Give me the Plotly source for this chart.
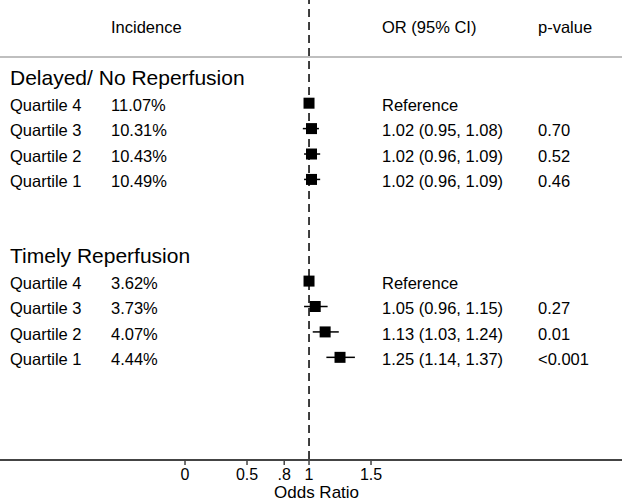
import plotly.graph_objects as go

# data
groups = ["Delayed/ No Reperfusion", "Timely Reperfusion"]
quartiles = ["Quartile 4", "Quartile 3", "Quartile 2", "Quartile 1"]
incidence = [[11.07, 10.31, 10.43, 10.49], [3.62, 3.73, 4.07, 4.44]]
odds = [[1.00, 1.02, 1.02, 1.02], [1.00, 1.05, 1.13, 1.25]]
ci_low = [[None, 0.95, 0.96, 0.96], [None, 0.96, 1.03, 1.14]]
ci_high = [[None, 1.08, 1.09, 1.09], [None, 1.15, 1.24, 1.37]]
pvals = [[None, "0.70", "0.52", "0.46"], [None, "0.27", "0.01", "<0.001"]]

tick_vals = [0, 0.5, 0.8, 1, 1.5]
tick_text = ["0", "0.5", ".8", "1", "1.5"]

FONT = "Liberation Sans, Arial, Helvetica, sans-serif"
group_rows = [2, 9]   # row index of each group title

W, H = 622, 501
PLOT_H = 459
col_x = [0.013, 0.175, 0.611, 0.862]   # label, incidence, OR, p-value

fig = go.Figure()
annots = []

def add_text(txt, x, y, size=16.5):
    annots.append(dict(text=txt, x=x, y=y, xref="paper", yref="y",
                       xanchor="left", yanchor="middle", showarrow=False,
                       font=dict(size=size, color="black", family=FONT)))

# header
add_text("Incidence", col_x[1], 0)
add_text("OR (95% CI)", col_x[2], 0)
add_text("p-value", col_x[3], 0)

for g, name in enumerate(groups):
    r0 = group_rows[g]
    add_text(name, col_x[0], r0, size=21)
    ys, xs, ep, em = [], [], [], []
    for i, q in enumerate(quartiles):
        y = r0 + 1 + i
        add_text(q, col_x[0], y + 0.07)
        add_text(f"{incidence[g][i]:.2f}%", col_x[1], y + 0.07)
        if ci_low[g][i] is None:
            add_text("Reference", col_x[2], y + 0.07)
            ep.append(0)
            em.append(0)
        else:
            add_text(f"{odds[g][i]:.2f} ({ci_low[g][i]:.2f}, {ci_high[g][i]:.2f})", col_x[2], y + 0.07)
            add_text(pvals[g][i], col_x[3], y + 0.07)
            ep.append(ci_high[g][i] - odds[g][i])
            em.append(odds[g][i] - ci_low[g][i])
        ys.append(y)
        xs.append(odds[g][i])
    fig.add_trace(go.Scatter(
        x=xs, y=ys, mode="markers",
        marker=dict(symbol="square", size=11, color="black"),
        error_x=dict(type="data", symmetric=False, array=ep, arrayminus=em,
                     color="black", thickness=1.5, width=0),
        showlegend=False, hoverinfo="skip"))

# x-axis title as an annotation below the tick labels
annots.append(dict(text="Odds Ratio", x=0.5096, y=-33 / PLOT_H, xref="paper", yref="paper",
                   xanchor="center", yanchor="middle", showarrow=False,
                   font=dict(size=17, color="black", family=FONT)))

# reference line at OR = 1
fig.add_shape(type="line", xref="x", yref="paper", x0=1, x1=1, y0=0, y1=1,
              line=dict(color="black", width=1.5, dash="8px,5px"), layer="below")
# header rule
fig.add_shape(type="line", xref="paper", yref="y", x0=0, x1=1, y0=1.18, y1=1.18,
              line=dict(color="#aaaaaa", width=1.5), layer="below")
# short tick marks hanging under the axis line
for v in tick_vals:
    fig.add_shape(type="line", xref="x", yref="paper", x0=v, x1=v, y0=0, y1=-6 / PLOT_H,
                  line=dict(color="#444444", width=1.5))

fig.update_layout(
    width=W, height=H,
    margin=dict(l=0, r=0, t=0, b=H - PLOT_H),
    paper_bgcolor="white", plot_bgcolor="white",
    font=dict(family=FONT, color="black", size=16),
    annotations=annots,
    xaxis=dict(range=[-1.492, 3.524], showgrid=False, zeroline=False,
               showline=True, linecolor="#444444", linewidth=1.5,
               tickmode="array", tickvals=tick_vals, ticktext=tick_text,
               ticks="", ticklabelstandoff=0,
               tickfont=dict(size=16, family=FONT)),
    yaxis=dict(range=[17, -1.06], showgrid=False, zeroline=False,
               showticklabels=False, showline=False),
)

# drop the browser's default 8px body margin so the figure fills the window
fig.write_html("out.html", config={"displayModeBar": False},
               post_script="document.body.style.margin='0';")
